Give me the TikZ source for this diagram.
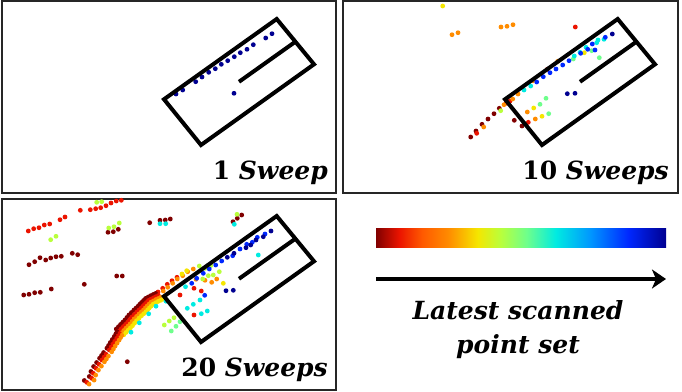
\documentclass[tikz,border=0pt]{standalone}
\usepackage{fontspec}
\setmainfont{DejaVu Serif}
\usetikzlibrary{arrows.meta,positioning,calc}
% jet colour map, dark red (oldest) to navy (latest)
\definecolor{jet0}{RGB}{128,0,0}
\definecolor{jet1}{RGB}{235,20,0}
\definecolor{jet2}{RGB}{255,90,0}
\definecolor{jet3}{RGB}{255,140,0}
\definecolor{jet4}{RGB}{245,230,0}
\definecolor{jet5}{RGB}{185,255,60}
\definecolor{jet6}{RGB}{110,255,140}
\definecolor{jet7}{RGB}{0,235,225}
\definecolor{jet8}{RGB}{0,150,255}
\definecolor{jet9}{RGB}{0,40,255}
\definecolor{jet10}{RGB}{0,0,145}
% the path is fitted to the middle half (25bp--75bp) of the shading
\pgfdeclarehorizontalshading{jetbar}{100bp}{color(0bp)=(jet0); color(25bp)=(jet0);
  color(29bp)=(jet1); color(33bp)=(jet2); color(37.5bp)=(jet3); color(42.5bp)=(jet4);
  color(46.5bp)=(jet5); color(51bp)=(jet6); color(56bp)=(jet7); color(62bp)=(jet8);
  color(68.5bp)=(jet9); color(75bp)=(jet10); color(100bp)=(jet10)}
\tikzset{
  panel/.style={draw=black!85, line width=2pt},
  vehicle/.style={draw=black, line width=4pt, line join=miter},
  sweeplabel/.style={font=\fontsize{25}{30}\selectfont\bfseries, anchor=base east,
                     inner sep=0pt},
  caption/.style={font=\fontsize{25}{34}\selectfont\bfseries\itshape, align=center,
                  inner sep=0pt},
  arrow/.style={-{Stealth[length=14pt,width=19pt,inset=4pt]}, line width=3.5pt},
}
\newcommand{\scan}[2]{\foreach \p in {#2} \fill[#1] \p circle (2.4pt);}

\begin{document}
\begin{tikzpicture}[x=1pt,y=-1pt]
\useasboundingbox (0,0) rectangle (682,391);

% ---------------- panel frames ----------------
\draw[panel] (1.5,1.3) rectangle (336,193);
\draw[panel] (343,1.3) rectangle (677.5,193);
\draw[panel] (1.5,198.7) rectangle (336,389.5);

% ---------------- 1 sweep ----------------
\scan{jet10}{(272,33.7),(265.7,38),(253.3,44.7),(247,49.3),(240.3,52.7),(234.3,56.7),
  (227.7,60.7),(221.3,64.3),(215.3,68.7),(208.7,72.3),(202,77),(195.7,81.7),(182.7,90),
  (176,94),(234,93.3)}

% ---------------- 10 sweeps ----------------
\scan{jet0}{(514.3,120.3),(522,126),(499.3,108.3),(494,113.7),(488,119),(482,124.3),
  (476,131),(470.7,137)}
\scan{jet1}{(575.3,27),(528.3,122.3),(506,103.3),(547.3,69.3),(476.7,133.3),(510,101)}
\scan{jet3}{(452,34.7),(458,32.7),(501,27),(507,26.3),(513,24.7),(527.3,112),(535.3,119),
  (518,94),(512.7,99),(557.7,61.3),(533,80.7),(504,104.7),(483.7,127)}
\scan{jet4}{(442.7,6),(584.3,52.7),(533.7,108),(542,116.3)}
\scan{jet5}{(500.7,110.7)}
\scan{jet6}{(591.7,50.7),(573.3,59),(599.3,57.7),(546,98.3),(540,104.3),(548.7,113.7)}
\scan{jet7}{(604,39.3),(598,40),(596.7,42.7),(586,47.3),(580,52.3),(574.3,56),(530.7,86),
  (524,90)}
\scan{jet9}{(605.3,37.3),(592.3,44),(595,50),(587.7,49.3),(580.7,53.3),(569,60.7),
  (562.7,65),(556,69),(550,72.7),(543.3,76.7),(536.7,82)}
\scan{jet10}{(612.3,34),(567.3,93.7),(575,93.3)}

% ---------------- 20 sweeps ----------------
\scan{jet1}{(80.3,210.3),(90.3,209.7),(95.7,208.7),(100.7,207.7),(106,205.7),(111,203),
  (116.3,201),(121.3,200.3),(28.3,231),(33.7,228.7),(39,227.7),(44.3,225),(49.7,224),
  (60,219.7),(65,217),(158,292),(162.7,288.3),(167.3,284.3),(172,280.7),(177,277.3),
  (194,288.3),(201.3,291),(194,315),(180,295)}
\scan{jet0}{(108,232.3),(113.3,231.7),(118.3,229.3),(149.7,222.7),(160,220.3),(165.3,220),
  (170.3,219),(29,264.7),(34.7,261.7),(40,257.7),(45.7,260),(50.7,258),(56,256.7),
  (61.3,256.3),(72.3,253.3),(77.7,254.7),(116.7,276),(122.3,276),(84.3,284.3),(23.7,295),
  (29,294.3),(34.7,292.7),(40.3,292.3),(51.3,289),(233,221.7),(237.3,218.3),(241.7,215),
  (127.3,361.7),(154,294.5)}
\scan{jet3}{(193.3,269),(187.7,271.7),(182.7,275.7),(177.3,279),(172.7,283.3),
  (167.7,287.3),(163.3,291),(205,280.3),(211.7,282.3),(216.7,279),(196,279.3)}
\scan{jet4}{(223.3,283.3),(182,274),(186.7,270.7)}
\scan{jet5}{(96.7,202.3),(101.7,201.7),(50.7,239.7),(56,236.3),(108.7,228),(114,226.7),
  (119.3,223),(237,214.3),(199.3,266),(205,268.3),(210.7,265.7),(219.3,271.7),
  (213.3,275),(208.3,275.7),(202.7,279),(174,317.7),(169.3,321),(164.3,325)}
\scan{jet6}{(180,321.7),(176,326.3),(171.3,331)}
\scan{jet7}{(160,223.7),(165.7,223.7),(234.3,224.3),(258.3,255),(200,300),(193.3,304.3),
  (187.3,308.3),(207.3,311),(201.3,313.7),(185.5,286.7)}
\scan{jet9}{(265,234),(257.3,237.3),(252.3,242.3),(246.7,244.3),(240,249),(232.7,255.7),
  (221.7,261),(215.7,265),(209.3,269),(203.3,273.3),(196.7,278.3),(191.7,283.3),
  (204.7,295.3)}
\scan{jet10}{(271,231),(263.3,236.7),(256,240),(250.7,245),(246,247.7),(234,253.3),
  (227.3,257.3),(226,290.7),(233.3,290.3)}
% thick band of the curb, oldest sweeps on its outer side
\foreach \x/\y in {160/296.7,157.5/297.9,155/299,152.5/300.4,150/301.7,148/303.7,
  146/305.7,144.3/307.5,142.7/309.3,140.5/311.3,138.3/313.3,135.8/315.8,133.3/318.3,
  131.3/320.8,129.3/323.3,127.2/325.5,125/327.7,122.9/330,120.7/332.3} {
  \fill[jet0] ({\x-4.4},{\y-3.3}) circle (2.4pt);
  \fill[jet1] ({\x-1.6},{\y-1.2}) circle (2.4pt);
  \fill[jet3] ({\x+0.8},{\y+0.6}) circle (2.4pt);
  \fill[jet4] ({\x+3.2},{\y+2.4}) circle (2.4pt);
}
\foreach \x/\y in {160/296.7,150/301.7,142.7/309.3,133.3/318.3,125/327.7} {
  \fill[jet7] ({\x+6},{\y+4.5}) circle (2.4pt);
}
\foreach \x/\y in {119.5/333.5,118.2/335.8,116.7/338.3,114.7/341.3,112.7/344.3,
  111/347.2,109.3/350,106/354.3,104/357.2,102/360,99/364.3,96/368.3,93.3/373.3,
  91.7/378.3,86.7/382.3} {
  \fill[jet0] ({\x-2.4},{\y-1.8}) circle (2.4pt);
  \fill[jet1] ({\x},{\y}) circle (2.4pt);
  \fill[jet3] ({\x+2.4},{\y+1.8}) circle (2.4pt);
}

% ---------------- vehicle outline in every panel ----------------
\foreach \dx/\dy in {0/0,341/0,0/197} {
  \begin{scope}[shift={(\dx,\dy)}]
    \draw[vehicle] (276.7,19) -- (314,64.3) -- (201,145) -- (164,99.3) -- cycle;
    \draw[vehicle] (295.4,41.7) -- (239,81.8);
  \end{scope}
}

\node[sweeplabel] (one) at (328,179) {1 \textit{Sweep}};
\node[sweeplabel] (ten) at (669,179) {10 \textit{Sweeps}};
\node[sweeplabel] (twenty) at (328,376.7) {20 \textit{Sweeps}};

% ---------------- colour legend ----------------
\node[shading=jetbar, minimum width=290pt, minimum height=19.4pt, inner sep=0pt]
  (bar) at (521,238) {};
\coordinate (tail) at (376,279);
\coordinate (head) at (666,279);
\draw[arrow] (tail) -- (head);
\node[caption] (latest) at (518,330) {Latest scanned\\point set};
\end{tikzpicture}
\end{document}
